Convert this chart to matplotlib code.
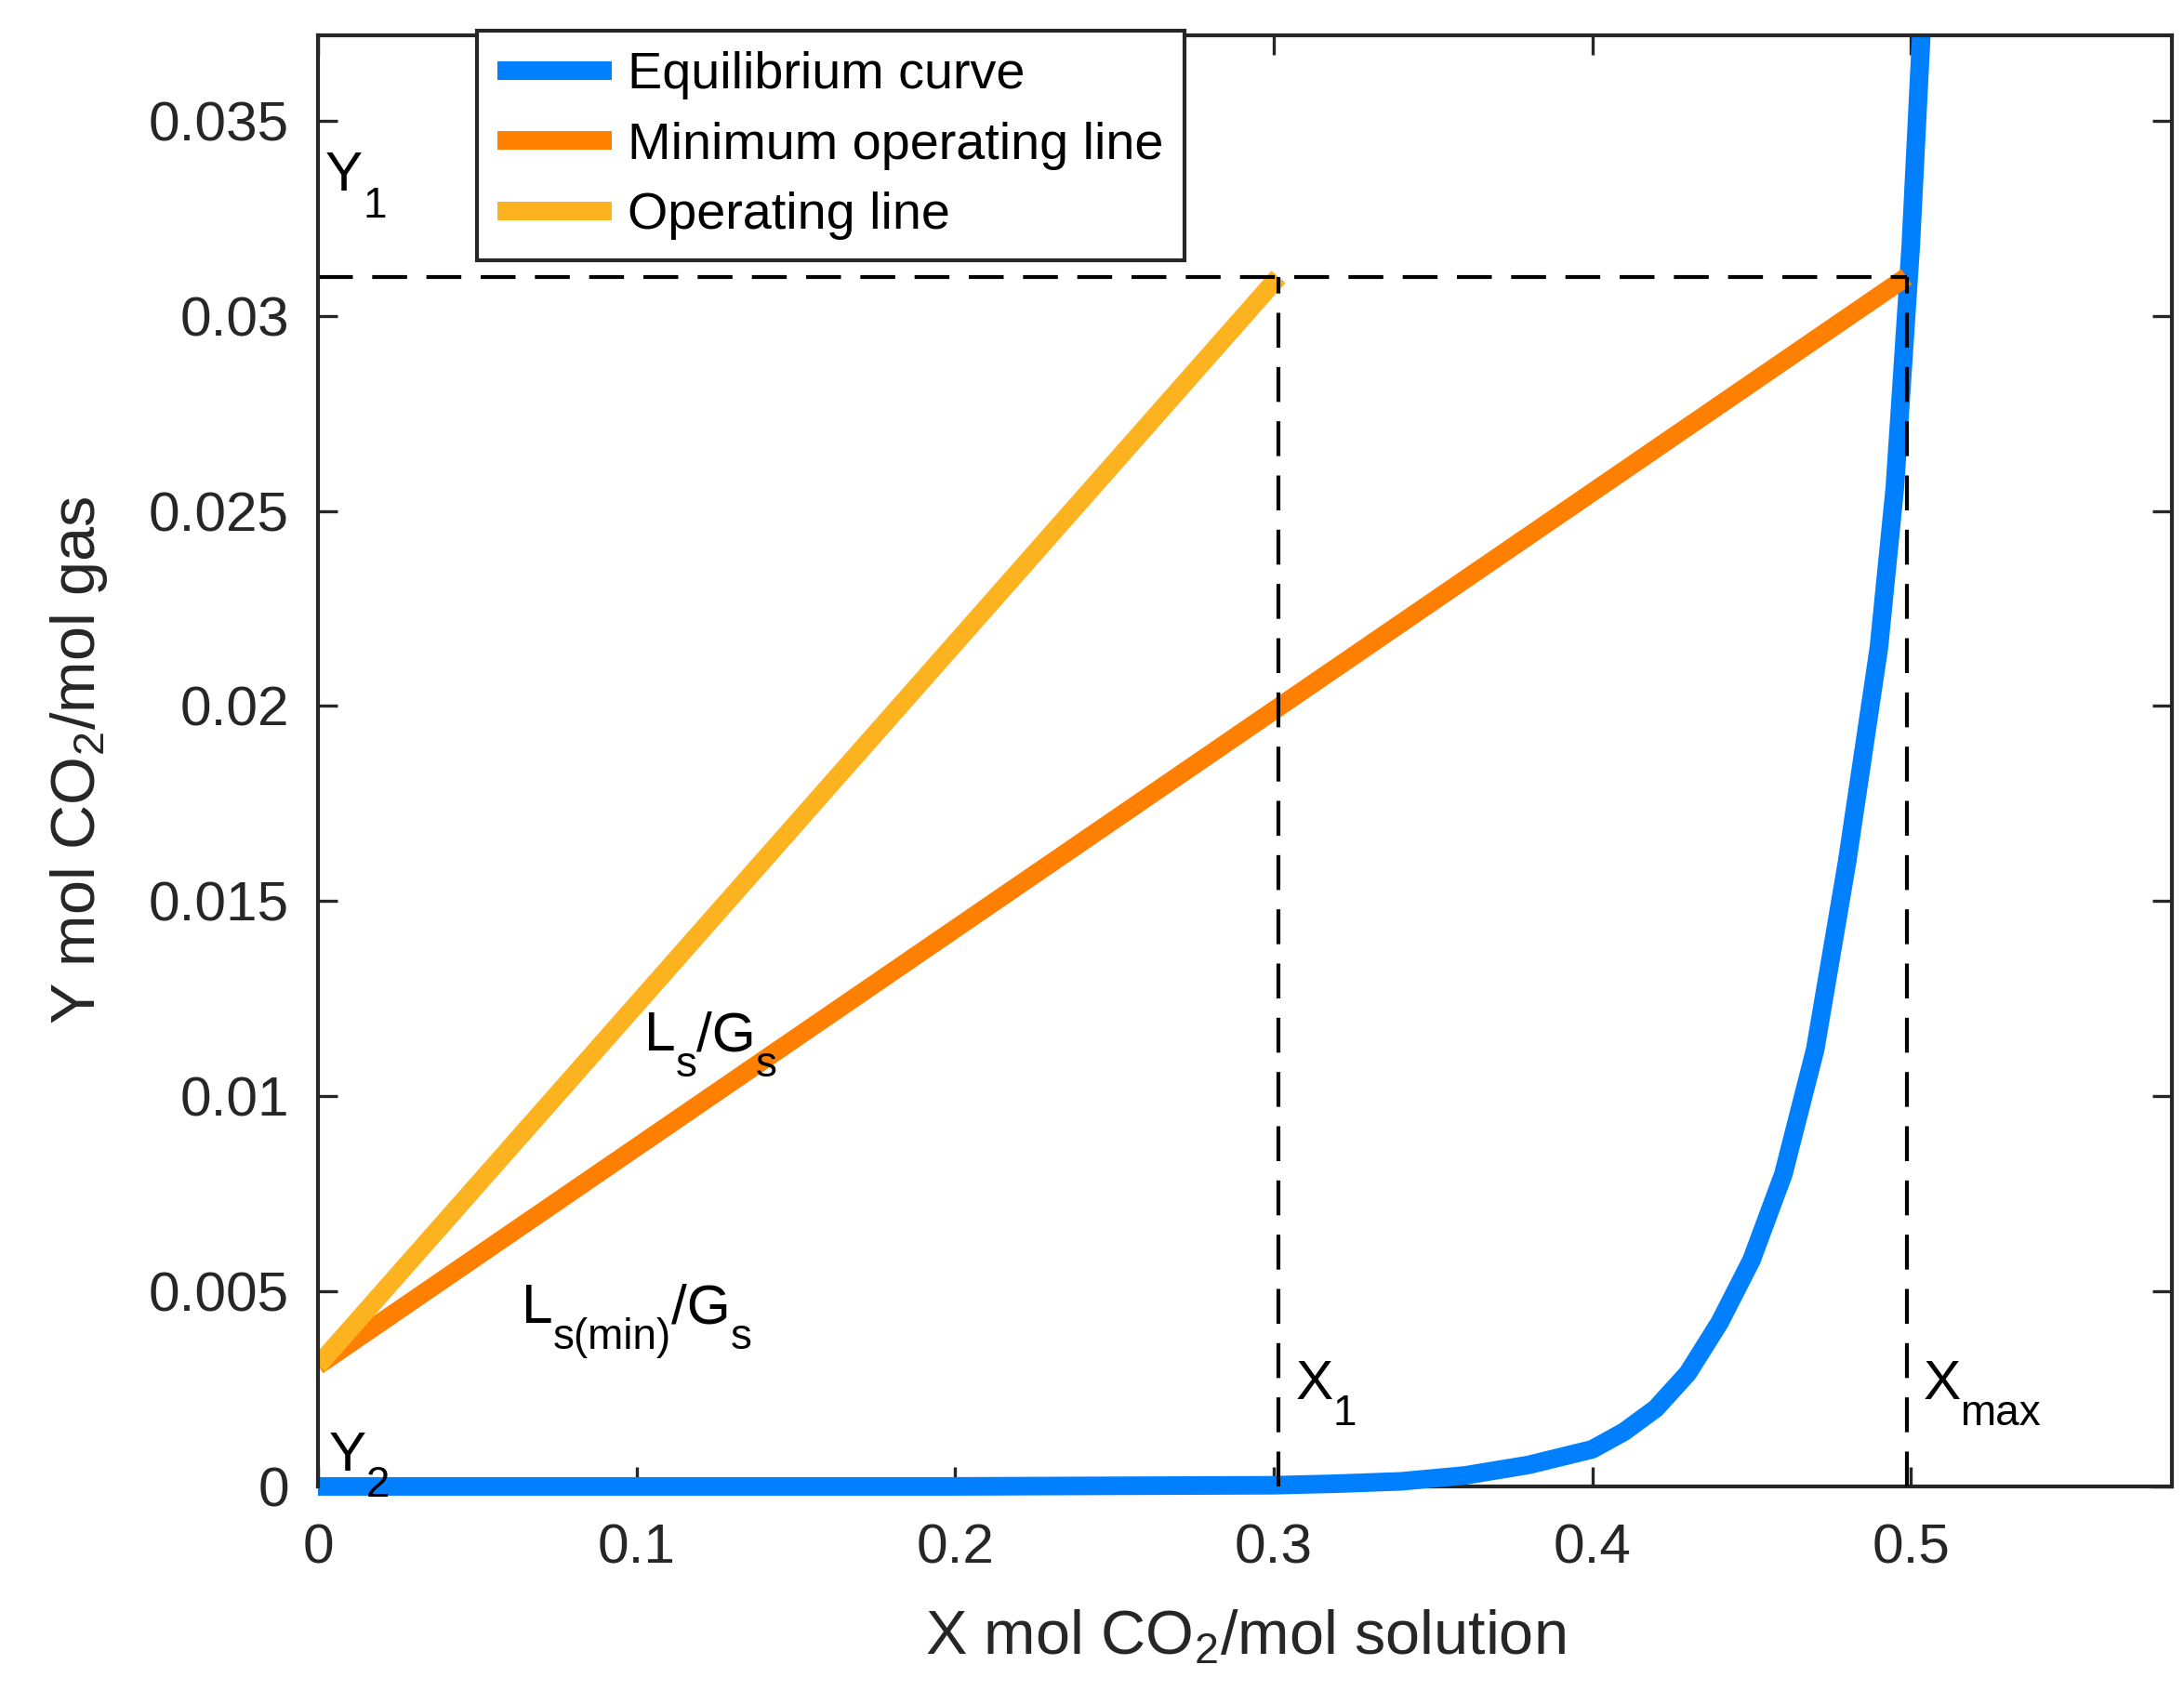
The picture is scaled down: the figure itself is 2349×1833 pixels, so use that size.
import matplotlib
matplotlib.use("Agg")
import matplotlib.pyplot as plt


# ---------------- DATA ---------------- #

# equilibrium curve
x_eq = [0.0, 0.10, 0.20, 0.30, 0.32, 0.34, 0.36, 0.38, 0.40, 0.41, 0.42,
        0.43, 0.44, 0.45, 0.46, 0.47, 0.48, 0.49, 0.495, 0.50, 0.5033]
y_eq = [0.0, 0.0, 0.0, 0.00003, 0.00007, 0.00013, 0.00028, 0.00055, 0.00095,
        0.0014, 0.0020, 0.0029, 0.0042, 0.0058, 0.0080, 0.0112, 0.0160,
        0.0215, 0.0256, 0.0318, 0.0372]

# operating lines
Y2 = 0.0031
Y1 = 0.031
X1 = 0.3015
X_max = 0.4987

x_min_op = [0.0, X_max]
y_min_op = [Y2, Y1]

x_op = [0.0, X1]
y_op = [Y2, Y1]

x_ticks = [0, 0.1, 0.2, 0.3, 0.4, 0.5]
x_tick_labels = ["0", "0.1", "0.2", "0.3", "0.4", "0.5"]
y_ticks = [0, 0.005, 0.01, 0.015, 0.02, 0.025, 0.03, 0.035]
y_tick_labels = ["0", "0.005", "0.01", "0.015", "0.02", "0.025", "0.03", "0.035"]


# ---------------- STYLE ---------------- #

plt.rcParams["font.family"] = ["Liberation Sans", "DejaVu Sans"]
plt.rcParams["mathtext.fontset"] = "custom"
plt.rcParams["mathtext.rm"] = "Liberation Sans"
plt.rcParams["mathtext.it"] = "Liberation Sans:italic"

axis_color = "#262626"
main_size = 14.5
sub_size = 11


# ---------------- PLOT ---------------- #

fig = plt.figure(figsize=(2349 / 300, 1833 / 300), dpi=300)
ax = fig.add_axes([0.1456, 0.1277, 0.8489, 0.8518])

ax.plot(x_eq, y_eq, color="#0080FF", linewidth=4.8,
        label="Equilibrium curve", solid_capstyle="butt", clip_on=False,
        zorder=2.0)
ax.plot(x_min_op, y_min_op, color="#FF8000", linewidth=4.8,
        label="Minimum operating line", solid_capstyle="butt", zorder=2.1)
ax.plot(x_op, y_op, color="#FDB31F", linewidth=4.8,
        label="Operating line", solid_capstyle="butt", zorder=2.2)

# dashed guide lines
dash = dict(color="black", linewidth=1.0, linestyle=(0, (9, 5)), zorder=2.3)
ax.plot([0, X_max], [Y1, Y1], **dash)
ax.plot([X1, X1], [0, Y1], **dash)
ax.plot([X_max, X_max], [0, Y1], **dash)


# labels with low, large subscripts (MATLAB look)
def sub_label(x, y, parts):
    main = ax.text(x, y, parts[0][0], fontsize=main_size, va="baseline")
    prev = main
    for txt, is_sub in parts[1:]:
        if is_sub:
            prev = ax.annotate(txt, xy=(1, 0), xycoords=(prev, main),
                               xytext=(0, -6.3), textcoords="offset points",
                               fontsize=sub_size, va="bottom")
        else:
            prev = ax.annotate(txt, xy=(1, 0), xycoords=(prev, main),
                               xytext=(0, 0), textcoords="offset points",
                               fontsize=main_size, va="bottom")
            main = prev


sub_label(0.0023, 0.0332, [("Y", False), ("1", True)])
sub_label(0.0035, 0.0004, [("Y", False), ("2", True)])
sub_label(0.3068, 0.00224, [("X", False), ("1", True)])
sub_label(0.5038, 0.00224, [("X", False), ("max", True)])
sub_label(0.1024, 0.01117, [("L", False), ("s", True), ("/G", False), ("s", True)])
sub_label(0.0639, 0.00419, [("L", False), ("s(min)", True), ("/G", False),
                            ("s", True)])

ax.set_xlim(0, 0.582)
ax.set_ylim(0, 0.0372)

ax.set_xticks(x_ticks)
ax.set_xticklabels(x_tick_labels)
ax.set_yticks(y_ticks)
ax.set_yticklabels(y_tick_labels)

ax.tick_params(direction="in", length=5, width=0.8, colors=axis_color,
               labelsize=main_size, top=True, right=True)
ax.tick_params(axis="x", pad=9.5)
ax.tick_params(axis="y", pad=7.5)

for spine in ax.spines.values():
    spine.set_color(axis_color)
    spine.set_linewidth(1.0)

# the equilibrium curve sits on top of the bottom axis line
ax.spines["bottom"].set_zorder(1.5)
ax.xaxis.set_zorder(1.5)

ax.set_xlabel(r"X mol CO$_\mathrm{2}$/mol solution", fontsize=16,
              color=axis_color, labelpad=9)
ax.set_ylabel(r"Y mol CO$_\mathrm{2}$/mol gas", fontsize=16,
              color=axis_color, labelpad=10)

legend = ax.legend(loc="upper left", bbox_to_anchor=(0.0858, 1.003),
                   fontsize=13.4, handlelength=2.2, labelspacing=0.42,
                   fancybox=False, framealpha=1, borderpad=0.4,
                   handletextpad=0.3, borderaxespad=0)
legend.get_frame().set_edgecolor(axis_color)
legend.get_frame().set_linewidth(1.0)

plt.savefig("out.png", dpi=300)
